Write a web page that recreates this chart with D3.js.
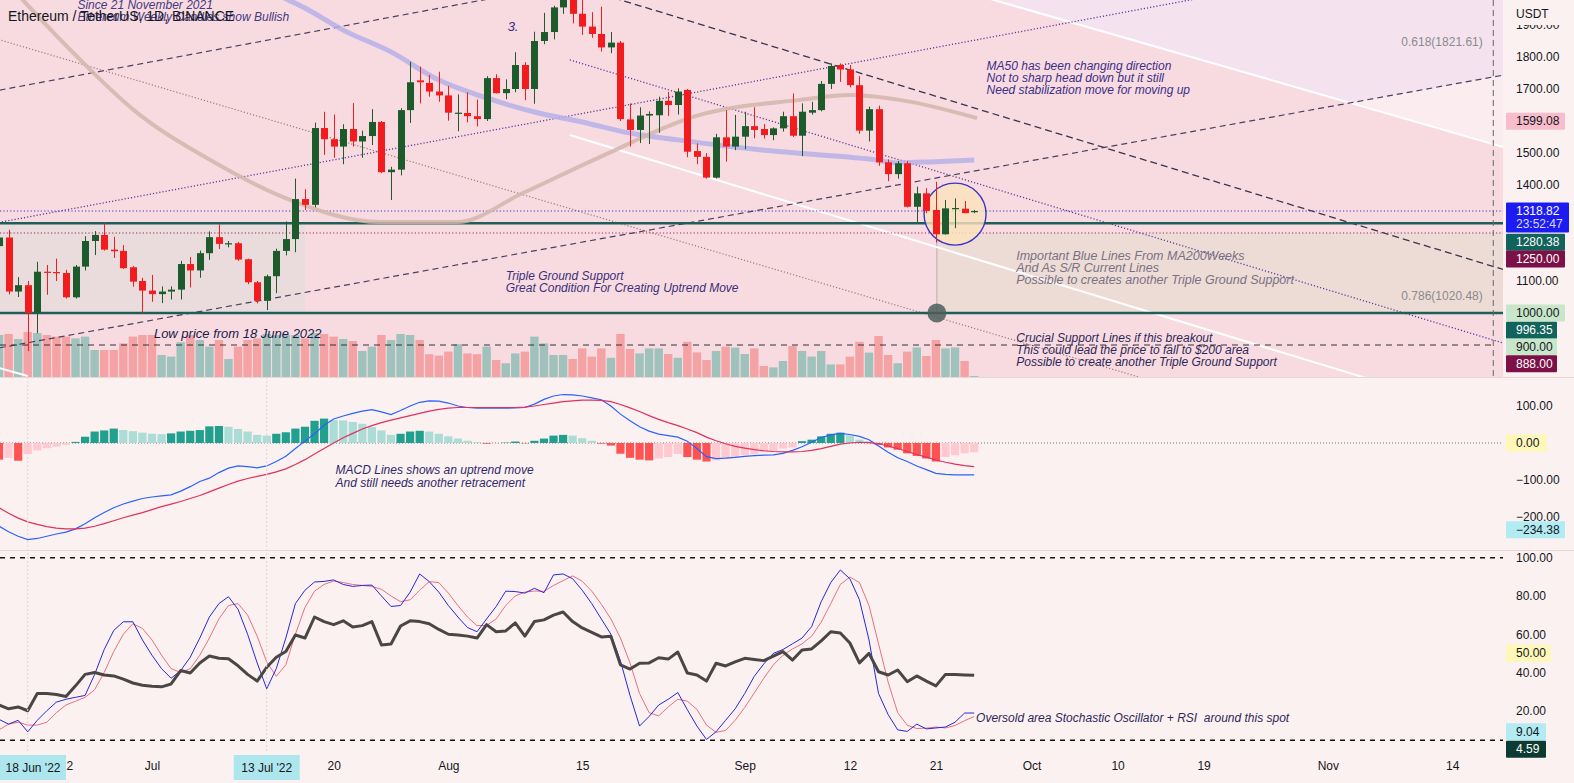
<!DOCTYPE html>
<html><head><meta charset="utf-8">
<script src="https://cdn.jsdelivr.net/npm/d3@7"></script>
<style>html,body{margin:0;padding:0;background:#fcf1f1;overflow:hidden}svg{display:block;font-family:"Liberation Sans",Arial,sans-serif}</style>
</head><body><svg id="c" width="1574" height="783"></svg>
<script>
// ===== DATA (ETH/USDT daily, 15 Jun 2022 -> 25 Sep 2022) =====
const firstDay = "2022-06-15", lastDay = "2022-09-25";
const open  = [1209,1236,1067,1087,1000,1129,1128,1125,1049,1145,1225,1244,1198,1194,1143,1100,
 1070,1059,1067,1073,1153,1133,1187,1237,1216,1218,1168,1096,1038,1115,1194,1231,1356,1338,1578,1543,1520,1575,1536,1553,1597,1440,1448,1634,1727,1719,1692,
 1680,1624,1625,1615,1606,1734,1687,1700,1775,1700,1850,1878,1955,1980,1935,1895,1872,1830,1845,1605,1572,1617,1618,1663,1650,1697,1506,1488,1423,1549,1520,
 1551,1584,1575,1556,1577,1615,1554,1626,1634,1716,1775,1761,1712,1570,1637,1471,1434,1468,1332,1374,1322,1246,1326,1326,1315];
const high  = [1245,1260,1112,1100,1160,1150,1170,1135,1150,1240,1256,1281,1238,1212,1147,1110,
 1119,1083,1083,1163,1175,1195,1255,1277,1225,1222,1170,1100,1120,1201,1286,1420,1387,1595,1629,1620,1590,1656,1570,1637,1600,1457,1640,1785,1770,1744,1754,
 1710,1683,1690,1667,1740,1746,1730,1815,1784,1879,1938,1960,2010,2030,2010,1940,1957,1878,1850,1655,1643,1630,1676,1691,1702,1700,1530,1500,1560,1634,1619,
 1629,1643,1590,1580,1629,1686,1655,1660,1725,1780,1780,1775,1740,1645,1648,1480,1475,1475,1395,1390,1410,1353,1358,1350,1322];
const low   = [1075,1058,1050,881,937,1057,1100,1045,1045,1133,1181,1195,1172,1138,1082,1000,
 1035,1031,1042,1042,1080,1110,1166,1200,1205,1163,1090,1030,1009,1062,1180,1190,1322,1330,1494,1485,1465,1520,1485,1525,1437,1353,1430,1594,1655,1676,1660,
 1601,1568,1596,1583,1600,1686,1668,1690,1665,1654,1840,1855,1935,1905,1869,1860,1817,1812,1600,1520,1531,1528,1563,1616,1620,1487,1465,1420,1420,1473,1509,
 1512,1546,1545,1540,1567,1550,1490,1620,1630,1700,1722,1705,1560,1536,1460,1412,1420,1330,1282,1312,1220,1245,1265,1312,1312];
const close = [1236,1067,1087,1000,1129,1127,1125,1049,1145,1225,1244,1198,1193,1140,1098,1070,
 1059,1067,1073,1153,1133,1187,1237,1216,1218,1167,1096,1038,1115,1194,1231,1356,1338,1578,1543,1520,1575,1536,1553,1597,1440,1448,1634,1721,1721,1692,1680,
 1626,1626,1615,1606,1734,1687,1700,1775,1700,1850,1878,1955,1980,1935,1895,1872,1830,1845,1606,1572,1617,1622,1663,1650,1692,1504,1488,1423,1549,1520,1551,
 1584,1572,1556,1577,1615,1554,1629,1634,1716,1772,1761,1712,1570,1637,1471,1434,1468,1332,1374,1319,1246,1327,1328,1312,1318.82];
const volumeK = [1050,1075,950,1125,1100,1050,1010,1010,965,1010,675,675,675,840,1010,1050,
 1050,550,510,870,1050,925,760,925,450,760,925,965,1075,1050,1050,1050,965,1100,1075,1010,950,900,650,760,1050,925,1075,1050,925,570,535,
 635,820,590,570,760,425,345,590,635,1010,840,550,550,450,715,510,715,480,1075,700,590,715,715,575,480,880,615,425,650,760,735,
 575,715,275,240,400,775,650,510,650,315,315,510,880,610,1025,550,345,635,740,525,925,715,740,400,25];
const macdLine = [-225,-240,-252,-261,-258,-252,-246,-241,-232,-218,-202,-188,-175,-165,-157,-150,-146,-143,-140,-130,
 -118,-104,-95,-80,-68,-62,-64,-67,-62,-50,-36,-15,5,25,48,65,73,80,86,90,84,77,88,100,110,114,113,108,100,96,
 94,94,95,94,95,96,105,118,127,131,130,127,122,117,100,78,60,44,32,24,20,16,5,-15,-37,-42,-41,-39,-36,-34,
 -33,-32,-28,-20,-10,2,15,22,26,23,18,9,-8,-25,-40,-50,-62,-72,-82,-85,-86,-86,-86];
const signalLine = [-175,-190,-203,-213,-220,-226,-230,-232,-232,-230,-225,-218,-210,-202,-195,-188,-180,-172,-165,-158,
 -150,-142,-132,-122,-112,-103,-96,-90,-85,-78,-70,-58,-45,-30,-15,0,14,26,38,47,55,62,68,74,80,86,91,94,96,96,
 96,96,96,96,96,97,100,104,108,112,114,116,116,115,112,104,95,85,74,64,55,47,38,28,16,6,-2,-9,-14,-18,
 -21,-23,-24,-24,-23,-20,-15,-9,-3,0,2,1,-2,-8,-15,-23,-31,-38,-46,-52,-57,-61,-64];
const histogram = [-45,-40,-48,-30,-20,-14,-10,-5,3,17,31,34,39,35,32,28,
 25,24,26,31,33,35,45,46,44,38,31,22,20,25,29,39,44,60,66,62,61,57,52,43,34,22,25,31,33,31,25,
 18,12,6,2,-2,-1,1,4,-1,6,12,20,22,20,13,6,-2,-7,-29,-40,-45,-47,-42,-38,-30,-38,-45,-50,-47,-42,-38,
 -33,-30,-25,-22,-15,-12,5,9,18,25,28,21,9,4,-5,-12,-18,-28,-35,-42,-50,-38,-33,-28,-25];
const stochK = [15.5,13,15,9,15,20,24.5,26,27,28,39,52,62,66.5,66.5,57,49,42,37,41,
 48,58,69,76,79.6,73,60,45,31.5,42,58,76,83,87.3,87.6,88.4,86,85,85.5,85.7,80,74.5,75,82,91.5,87.5,82,75,69,63.5,
 61.3,68,74.5,82.5,82.3,81.5,84,81.7,91,91.5,89,83,76,68,60,46,28,12,17,23,26,29.5,20.5,12,5,9,15,21,29,38,
 44.5,50,52,55,58,64,77,87,93.6,89,78,57,29,18,10,9.2,13,10.5,11,11.5,14,18.8,18.8];
const stochD = [10,13,14,12.5,12.5,14,19,23,25,27,31,40,51,60,65.5,63,57,49,42,40,
 42,49,58,68,75,76,70,59,45.5,38,44,60,74,82.5,86,87.8,87,86,85.5,85,83.5,80,77,78,83,87.5,87,81.5,75,69,
 64.5,64.6,68,75,80,82,82.6,82.4,85.5,88,90.5,87.7,82.5,75.7,68,58,45,29,19,17.3,22,26,25,20.7,12.5,8.7,9.7,15,21.7,29.3,
 37,44,49,52.3,55,59,66.3,76,86,89.9,87,75,55,35,19,12.4,10.7,10.9,11.5,11,12.3,14.8,17];
const rsi = [23,21,22,20,29,29,28.5,27.4,33,39,40,38.7,38.2,36.5,34.5,33.3,32.8,32.5,34,41,
 39.7,45,48.6,47.4,47.2,43.5,39,35.5,42.7,48,51,59.6,58,69,66.6,65,67,63.8,64.5,66.6,54.4,54.9,64.3,67,66.6,65.5,62.5,60,59.6,59,
 58,65,61.3,61.7,65.9,59,66.6,67.5,70,71.6,66.6,63.3,61,58.6,59,44,41.8,44.8,45,47.7,47,50.7,39.7,38.7,35.5,44.8,43.4,45.5,47.4,46.8,
 46.2,48.5,50.9,46.5,51.8,52.3,56.5,61.3,60.6,55.4,45,50,40.4,38.7,41.3,35.2,38.2,35.5,33,39,39,38.7,38.5];
// moving averages (read at selected days, offset from 1 Jul 2022)
const maSlowDays = [10,13,16,20,25,30,35,40,45,50,55,60,65,70,75,78,82,86];
const maSlow     = [2047,1997,1953,1884,1816,1728,1672,1628,1597,1562,1541,1522,1506,1494,1481,1469,1473,1478];
const maFastDays = [-16,-13.5,-7.8,-1.9,6.1,14.5,23.8,31.9,38.8,46.9,57.3,67.8,73,78.2,86.3];
const maFast     = [2060,1978,1800,1634,1478,1353,1284,1284,1375,1488,1619,1666,1681,1666,1609];
// price-axis ticks & last-value labels
const priceTicks = [1900,1800,1700,1500,1400,1100];
const macdTicks = [100,-100,-200];
const stochTicks = [100,80,60,40,20];
const timeTicks = [["2022-06-22","22"],["2022-07-01","Jul"],["2022-07-20","20"],["2022-08-01","Aug"],["2022-08-15","15"],
 ["2022-09-01","Sep"],["2022-09-12","12"],["2022-09-21","21"],["2022-10-01","Oct"],["2022-10-10","10"],["2022-10-19","19"],
 ["2022-11-01","Nov"],["2022-11-14","14"]];
const timeBoxes = [["2022-06-18","18 Jun '22"],["2022-07-13","13 Jul '22"]];
// drawings [dayFrom1Jul, price, dayFrom1Jul, price]
const trendDashUp1 = [-18,1685,45,2036];
const trendDotUp   = [-18,1272,115,2014];
const trendDashUp2 = [-18,880,142,1747];
const trendDotBrown= [-18,1872,110,740];
const trendDotDown = [43.7,1791,142,900];
const trendDashDown= [45,2015,142,1130];
const whiteUpper   = [86,1996,142,1513];
const whiteLower   = [43.7,1556,142,660];
const whiteSmall   = [-18,845,-13,803];

// ===== LAYOUT =====
const W=1574,H=783,plotR=1503;
const svg=d3.select("#c");
const parse=d3.utcParse("%Y-%m-%d");
const day0=parse("2022-07-01");
const x=d3.scaleUtc().domain([day0,parse("2022-11-14")]).range([152,152+136*9.56]);
const X=d=>x(new Date(day0.getTime()+d*864e5));
const dates=d3.utcDay.range(parse(firstDay),d3.utcDay.offset(parse(lastDay),1));
const yP=d3.scaleLinear().domain([1000,1800]).range([313,57]);
const yV=d3.scaleLinear().domain([0,1100]).range([377,333]);
const yM=d3.scaleLinear().domain([-100,100]).range([480,406]);
const yS=d3.scaleLinear().domain([0,100]).range([749,557.7]);

const defs=svg.append("defs");
defs.append("clipPath").attr("id","cp").append("rect").attr("x",0).attr("y",0).attr("width",plotR).attr("height",377);
defs.append("clipPath").attr("id","cm").append("rect").attr("x",0).attr("y",377).attr("width",plotR).attr("height",173);
defs.append("clipPath").attr("id","cs").append("rect").attr("x",0).attr("y",550).attr("width",plotR).attr("height",202);

svg.append("rect").attr("width",W).attr("height",H).attr("fill","#fcf1f1");

// ===== PRICE PANE =====
const gp=svg.append("g").attr("clip-path","url(#cp)");
gp.append("rect").attr("x",0).attr("y",0).attr("width",plotR).attr("height",377).attr("fill","#f8dbe1");

function lf(t){const x1=X(t[0]),y1=yP(t[1]),x2=X(t[2]),y2=yP(t[3]);const m=(y2-y1)/(x2-x1);return xx=>y1+m*(xx-x1);}
const fU=lf(whiteUpper), fD=lf(trendDashUp2);
const lav=[[880,-20]];
for(let xx=880;xx<=plotR+2;xx+=2) lav.push([xx,Math.min(fU(xx),fD(xx))]);
lav.push([plotR+2,-20]);
gp.append("path").attr("d",d3.line()(lav)+"Z").attr("fill","#f4e3ee");
const wh=[];const whb=[];
for(let xx=1300;xx<=plotR+2;xx+=2){const a=fD(xx),b=Math.max(fD(xx),fU(xx));wh.push([xx,a]);whb.unshift([xx,b]);}
gp.append("path").attr("d",d3.line()(wh.concat(whb))+"Z").attr("fill","#faecef");

// rectangles
gp.append("rect").attr("x",X(-17)).attr("y",yP(1280.38)).attr("width",X(16)-X(-17)).attr("height",yP(1000)-yP(1280.38)).attr("fill","#eadbdd");
gp.append("rect").attr("x",X(82.1)).attr("y",yP(1250)).attr("width",plotR-X(82.1)+5).attr("height",yP(1000)-yP(1250)).attr("fill","#eddcd6");
gp.append("line").attr("x1",X(82.1)).attr("x2",X(82.1)).attr("y1",yP(1250)).attr("y2",yP(1000)).attr("stroke","#bfaaa8").attr("stroke-width",1);

// volume
gp.append("g").selectAll("rect").data(dates).join("rect")
 .attr("x",(d,i)=>x(d)-4.2).attr("width",8.4)
 .attr("y",(d,i)=>yV(volumeK[i])).attr("height",(d,i)=>yV(0)-yV(volumeK[i]))
 .attr("fill",(d,i)=>close[i]>=open[i]?"#9fc2bc":"#f4a2a4");

function drawSeg(t,color,dash,w){gp.append("line").attr("x1",X(t[0])).attr("y1",yP(t[1])).attr("x2",X(t[2])).attr("y2",yP(t[3]))
 .attr("stroke",color).attr("stroke-width",w||1).attr("stroke-dasharray",dash||null);}
drawSeg(whiteUpper,"#ffffff",null,2);
drawSeg(whiteLower,"#ffffff",null,2);
drawSeg(whiteSmall,"#ffffff",null,2);
drawSeg(trendDotBrown,"#9c7b70","1.2 2",1.2);
drawSeg(trendDashUp1,"#4a4060","6 4",1.2);
drawSeg(trendDashUp2,"#4a4060","6 4",1.2);
drawSeg(trendDotUp,"#5a3c9c","1.2 2",1.3);
drawSeg(trendDotDown,"#5a3c9c","1.2 2",1.3);
drawSeg(trendDashDown,"#3a3450","7 4",1.3);

// horizontal levels
function hl(p,color,dash,w,x2){gp.append("line").attr("x1",0).attr("x2",x2||plotR).attr("y1",yP(p)).attr("y2",yP(p)).attr("stroke",color).attr("stroke-width",w).attr("stroke-dasharray",dash||null);}
hl(1318.82,"#3a36c8","1.2 2.2",1.2);
hl(1250,"#9a2a66","1.2 2.2",1.2);
hl(1280.38,"#1e5f5a",null,2.6);
hl(1000,"#1e5f5a",null,2.6);
hl(900,"#333333","6 5",1,X(140.3));
// vertical dashed marker
gp.append("line").attr("x1",X(140.3)).attr("x2",X(140.3)).attr("y1",0).attr("y2",377).attr("stroke","#666").attr("stroke-dasharray","6 4").attr("stroke-width",1);

// moving averages
const lineMA=d3.line().curve(d3.curveMonotoneX);
gp.append("path").attr("d",lineMA(maSlowDays.map((d,i)=>[X(d),yP(maSlow[i])]))).attr("fill","none").attr("stroke","#b6b0e6").attr("stroke-width",5).attr("stroke-opacity",0.85);
gp.append("path").attr("d",lineMA(maFastDays.map((d,i)=>[X(d),yP(maFast[i])]))).attr("fill","none").attr("stroke","#d2b6aa").attr("stroke-width",4).attr("stroke-opacity",0.85);

// circle highlight
gp.append("circle").attr("cx",X(84)).attr("cy",yP(1309)).attr("r",31).attr("fill","#fbe2bd").attr("fill-opacity",0.8).attr("stroke","#3b33c6").attr("stroke-width",1.4);

// candles
const cg=gp.append("g");
dates.forEach((d,i)=>{
 const up=close[i]>=open[i], col=up?"#1d5b2c":"#f21c1e", cx=Math.round(x(d))+0.5;
 cg.append("line").attr("x1",cx).attr("x2",cx).attr("y1",yP(high[i])).attr("y2",yP(low[i])).attr("stroke",col).attr("stroke-width",1);
 const t=yP(Math.max(open[i],close[i])), b=yP(Math.min(open[i],close[i]));
 cg.append("rect").attr("x",cx-3.5).attr("width",7).attr("y",t).attr("height",Math.max(1.2,b-t)).attr("fill",col);
});
// support dot
gp.append("circle").attr("cx",X(82.1)).attr("cy",yP(1000)).attr("r",9.5).attr("fill","#4c5e5a").attr("fill-opacity",0.85);

// annotations
function txt(g,xx,yy,lines,opt){const t=g.append("text").attr("x",xx).attr("y",yy).attr("font-size",opt.size||12).attr("font-style",opt.italic===false?null:"italic")
 .attr("fill",opt.color).attr("font-weight",opt.weight||null).attr("text-anchor",opt.anchor||"start").style("white-space","pre");
 lines.forEach((l,k)=>t.append("tspan").attr("x",xx).attr("dy",k?(opt.lh||12):0).text(l));return t;}
txt(gp,X(87.3),yP(1772)+4,["MA50 has been changing direction","Not to sharp head down but it still","Need stabilization move for moving up"],{color:"#3b2f86",size:12});
txt(gp,X(90.4),yP(1178)+4,["Important Blue Lines From MA200Weeks","And As S/R Current Lines","Possible to creates another Triple Ground Support"],{color:"#7a7084",size:12.5});
txt(gp,X(90.4),yP(923)+4,["Crucial Support Lines if this breakout","This could lead the price to fall to $200 area","Possible to create another Triple Ground Support"],{color:"#2d2858",size:12});
txt(gp,X(37),yP(1116)+4,["Triple Ground Support","Great Condition For Creating Uptrend Move"],{color:"#3b2f7a",size:12});
txt(gp,X(0.2),yP(934)+4,["Low price from 18 June 2022"],{color:"#1c1a4a",size:13});
txt(gp,X(37.2),yP(1897)+5,["3."],{color:"#3b2f7a",size:13});
txt(gp,X(-7.8),yP(1962)+4,["Since 21 November 2021","Ethereum Weekly Candles show Bullish"],{color:"#443a80",size:12});
txt(gp,X(139.2),yP(1821.61)-4,["0.618(1821.61)"],{color:"#8c8a8c",size:12,italic:false,anchor:"end"});
txt(gp,X(139.2),yP(1020.48)-6,["0.786(1020.48)"],{color:"#8c8a8c",size:12,italic:false,anchor:"end"});

// ===== MACD PANE =====
const gm=svg.append("g").attr("clip-path","url(#cm)");
gm.append("line").attr("x1",0).attr("x2",plotR).attr("y1",yM(0)).attr("y2",yM(0)).attr("stroke","#777").attr("stroke-dasharray","1 2");
gm.append("g").selectAll("rect").data(dates).join("rect")
 .attr("x",d=>x(d)-4.1).attr("width",8.2)
 .attr("y",(d,i)=>Math.min(yM(0),yM(histogram[i]))).attr("height",(d,i)=>Math.abs(yM(histogram[i])-yM(0)))
 .attr("fill",(d,i)=>{const v=histogram[i],p=i?histogram[i-1]:v;return v>=0?(v>=p?"#22a08f":"#acdcd6"):(v<=p?"#ff5252":"#ffc9cf");});
const ln=(arr,sc)=>d3.line().x((d,i)=>x(dates[i])).y(d=>sc(d))(arr);
gm.append("path").attr("d",ln(macdLine,yM)).attr("fill","none").attr("stroke","#2962ff").attr("stroke-width",1.2);
gm.append("path").attr("d",ln(signalLine,yM)).attr("fill","none").attr("stroke","#e0305e").attr("stroke-width",1.2);
txt(gm,X(19.2),yM(-72)+4,["MACD Lines shows an uptrend move","And still needs another retracement"],{color:"#2f2a6a",size:12,lh:13});

// ===== STOCH / RSI PANE =====
const gs=svg.append("g").attr("clip-path","url(#cs)");
[100,4.59].forEach(v=>gs.append("line").attr("x1",0).attr("x2",plotR).attr("y1",yS(v)).attr("y2",yS(v)).attr("stroke","#111").attr("stroke-width",1.5).attr("stroke-dasharray","5 5"));
gs.append("path").attr("d",ln(stochD,yS)).attr("fill","none").attr("stroke","#e8707e").attr("stroke-width",1);
gs.append("path").attr("d",ln(stochK,yS)).attr("fill","none").attr("stroke","#2727d8").attr("stroke-width",1);
gs.append("path").attr("d",ln(rsi,yS)).attr("fill","none").attr("stroke","#4a4646").attr("stroke-width",3).attr("stroke-linejoin","round");
txt(gs,X(86.2),yS(16.2)+4,["Oversold area Stochastic Oscillator + RSI  around this spot"],{color:"#2d2858",size:12});

// faint vertical date markers in lower panes
["2022-06-18","2022-07-13"].forEach(s=>svg.append("line").attr("x1",x(parse(s))).attr("x2",x(parse(s))).attr("y1",377).attr("y2",752).attr("stroke","#e2d2d4").attr("stroke-dasharray","2 2"));

// pane separators
[377,550].forEach(yy=>svg.append("line").attr("x1",0).attr("x2",W).attr("y1",yy+0.5).attr("y2",yy+0.5).attr("stroke","#e6d8d8"));

// ===== RIGHT AXES =====
const fmt=d3.format(".2f");
function axR(sc,ticks){const g=svg.append("g").attr("transform",`translate(${plotR},0)`).call(d3.axisRight(sc).tickValues(ticks).tickFormat(fmt).tickSize(0).tickPadding(13));
 g.select(".domain").remove();g.selectAll("text").attr("font-size",12).attr("fill","#131722").attr("font-family","Liberation Sans, Arial, sans-serif");}
axR(yP,priceTicks);axR(yM,macdTicks);axR(yS,stochTicks);
svg.append("rect").attr("x",plotR+1).attr("y",0).attr("width",W-plotR).attr("height",25).attr("fill","#fcf1f1");
svg.append("text").attr("x",1516).attr("y",18).attr("font-size",12).attr("fill","#131722").text("USDT");

function box(yc,label,fill,color,w,second){const h=second?30:17;const top=second?yc-8.5:yc-h/2;
 svg.append("rect").attr("x",1506).attr("y",top).attr("width",w).attr("height",h).attr("fill",fill).attr("rx",1);
 svg.append("text").attr("x",1516).attr("y",top+12.5).attr("font-size",12).attr("fill",color).text(label);
 if(second) svg.append("text").attr("x",1516).attr("y",top+26).attr("font-size",12).attr("fill","#d8d8ff").text(second);}
box(yP(1599.08),fmt(1599.08),"#f8bccd","#131722",59);
box(yP(1318.82),fmt(1318.82),"#1c1cf2","#ffffff",63,"23:52:47");
box(yP(1280.38)+19,fmt(1280.38),"#11635b","#ffffff",59);
box(yP(1250)+26,fmt(1250),"#7b1146","#ffffff",59);
box(yP(1000),fmt(1000),"#c8e6c9","#131722",59);
box(yP(996.35)+16,fmt(996.35),"#11635b","#ffffff",51);
box(yP(900)+2,fmt(900),"#c8e6c9","#131722",51);
box(yP(888)+15,fmt(888),"#7b1146","#ffffff",51);
box(yM(0),fmt(0),"#fff7b8","#131722",41);
box(yM(-234.38),fmt(-234.38).replace("-","−"),"#b2ebf2","#131722",59);
box(yS(50),fmt(50),"#fff7b8","#131722",45);
box(yS(9.04),fmt(9.04),"#b2ebf2","#131722",40);
box(yS(4.59)+9,fmt(4.59),"#0b3b32","#ffffff",40);
svg.selectAll("g.tick text").text(function(){return this.textContent.replace("-","−");});

// ===== TIME AXIS =====
const gx=svg.append("g").attr("transform","translate(0,752)").call(d3.axisBottom(x).tickValues(timeTicks.map(t=>parse(t[0]))).tickFormat((d,i)=>timeTicks[i][1]).tickSize(0).tickPadding(9));
gx.select(".domain").remove();
gx.selectAll("text").attr("font-size",12).attr("fill","#131722").attr("font-family","Liberation Sans, Arial, sans-serif");
timeBoxes.forEach(([s,l])=>{const cx=x(parse(s)),w=66,left=Math.max(0,cx-w/2);
 svg.append("rect").attr("x",left).attr("y",755).attr("width",w).attr("height",25).attr("fill","#aee6ee");
 svg.append("text").attr("x",left+w/2).attr("y",772).attr("text-anchor","middle").attr("font-size",12).attr("fill","#131722").text(l);});

// title
svg.append("text").attr("x",8).attr("y",21).attr("font-size",14).attr("font-weight",500).attr("fill","#131722").text("Ethereum / TetherUS, 1D, BINANCE");
</script></body></html>
